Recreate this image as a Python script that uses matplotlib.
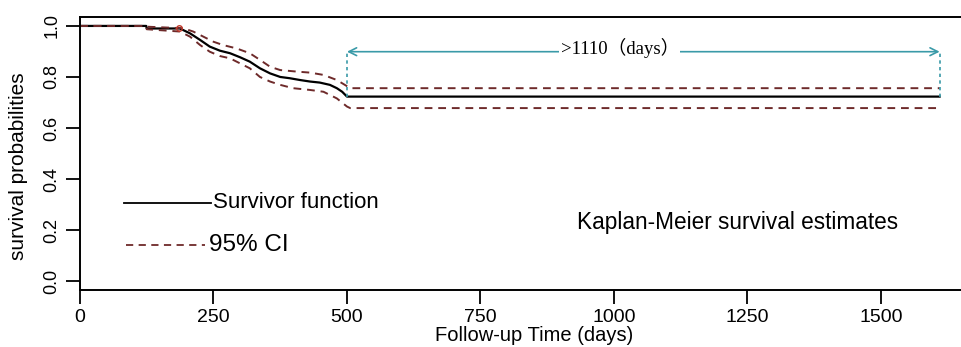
import matplotlib
matplotlib.use("Agg")
import matplotlib.pyplot as plt

# Kaplan-Meier estimate (days, survival)
km_days = [0, 124, 125, 187, 206, 225, 243, 262, 281, 300, 318, 337, 356, 375, 393, 412,
           431, 449, 468, 481, 491, 500, 1610]
km_surv = [1.0, 1.0, 0.99, 0.99, 0.971, 0.945, 0.919, 0.903, 0.893, 0.877, 0.86, 0.834,
           0.814, 0.80, 0.795, 0.788, 0.782, 0.778, 0.769, 0.756, 0.742, 0.723, 0.723]

upper_days = [0, 124, 125, 193, 212, 231, 250, 268, 293, 318, 337, 356, 375, 406, 431,
              456, 481, 496, 506, 1610]
upper_surv = [1.0, 1.0, 0.997, 0.991, 0.978, 0.958, 0.938, 0.925, 0.912, 0.893, 0.867,
              0.84, 0.827, 0.821, 0.817, 0.808, 0.788, 0.769, 0.756, 0.756]

lower_days = [0, 124, 125, 187, 206, 225, 243, 262, 281, 300, 318, 337, 356, 375, 399,
              431, 456, 481, 500, 506, 1610]
lower_surv = [1.0, 1.0, 0.987, 0.978, 0.958, 0.925, 0.899, 0.882, 0.873, 0.853, 0.834,
              0.80, 0.782, 0.769, 0.756, 0.749, 0.742, 0.716, 0.684, 0.678, 0.678]

x_ticks = [0, 250, 500, 750, 1000, 1250, 1500]
y_ticks = [0.0, 0.2, 0.4, 0.6, 0.8, 1.0]
y_tick_labels = ["0.0", "0.2", "0.4", "0.6", "0.8", "1.0"]

arrow_start, arrow_end, arrow_level = 500, 1610, 0.899
arrow_label = ">1110"

plt.rcParams['font.family'] = ['Liberation Sans', 'DejaVu Sans']

fig = plt.figure(figsize=(9.61, 3.47), dpi=100)
ax = fig.add_axes([80/961, 57/347, 1 - 80/961, 273/347])

ci_color = "#6e2a2a"
teal = "#3a9aa8"

ax.plot(km_days, km_surv, color="black", lw=1.6)
ax.plot(upper_days, upper_surv, color=ci_color, lw=1.4, ls=(0, (4, 3)))
ax.plot(lower_days, lower_surv, color=ci_color, lw=1.4, ls=(0, (4, 3)))
ax.plot([185], [0.99], marker="o", ms=4, mfc="none", mec="#c0392b", mew=1)

# dotted vertical guides and double arrow
ax.plot([arrow_start, arrow_start], [km_surv[-1], arrow_level], color=teal, ls=(0, (2, 2)), lw=1.2)
ax.plot([arrow_end, arrow_end], [km_surv[-1], arrow_level], color=teal, ls=(0, (2, 2)), lw=1.2)
ax.annotate("", xy=(arrow_start, arrow_level), xytext=(arrow_end, arrow_level),
            arrowprops=dict(arrowstyle="<->", color=teal, lw=1.2, mutation_scale=14,
                            shrinkA=0, shrinkB=0))
ax.text(1011, 0.912, arrow_label + "（days）", ha="center", va="center", fontsize=13.5,
        family=["Liberation Serif", "Noto Sans CJK SC"],
        bbox=dict(facecolor="white", edgecolor="none", pad=1))

# legend drawn manually
ax.plot([82, 245], [0.306, 0.306], color="black", lw=1.3)
ax.text(250, 0.306, "Survivor function", va="center", ha="left", fontsize=16)
ax.plot([86, 235], [0.141, 0.141], color=ci_color, lw=1.3, ls=(0, (4, 3)))
ax.text(241, 0.141, "95% CI", va="center", ha="left", fontsize=17.5)

ax.text(931, 0.23, "Kaplan-Meier survival estimates", va="center", ha="left", fontsize=16.3)

ax.set_xlim(0, 1650)
ax.set_ylim(-0.035, 1.035)
ax.set_xticks(x_ticks)
ax.set_xticklabels([str(t) for t in x_ticks], fontsize=14)
ax.set_yticks(y_ticks)
ax.set_yticklabels(y_tick_labels, fontsize=13, rotation=90, va="center")
ax.tick_params(axis="both", length=10, width=1.3, direction="out", pad=4)
for s in ["left", "bottom", "top"]:
    ax.spines[s].set_linewidth(1.4)
ax.spines["right"].set_visible(False)

ax.set_xlabel("Follow-up Time (days)", fontsize=14.5)
ax.xaxis.label.set_va("center")
ax.xaxis.set_label_coords(0.516, -0.165)
ax.set_ylabel("survival probabilities", fontsize=15)
ax.yaxis.label.set_va("center")
ax.yaxis.set_label_coords(-61/881, 0.455)

fig.savefig("out.png", dpi=100)
